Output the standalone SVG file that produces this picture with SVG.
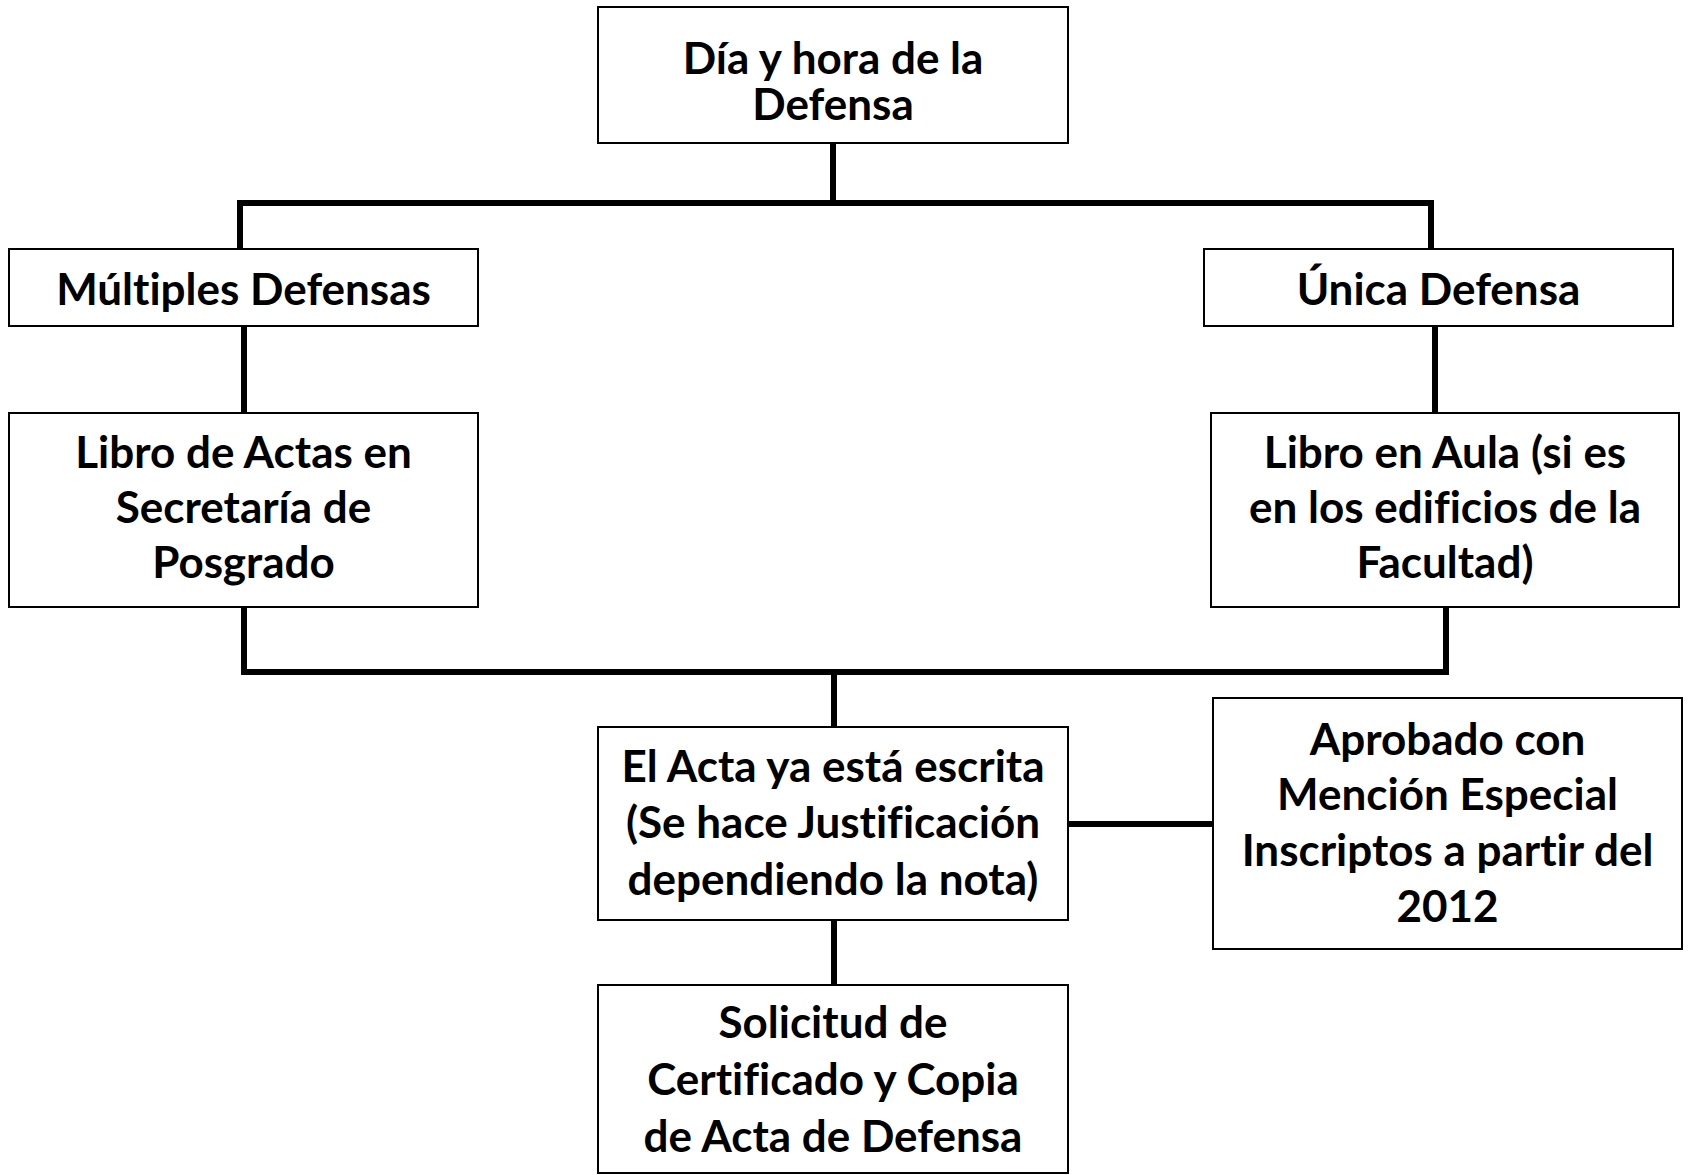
<svg xmlns="http://www.w3.org/2000/svg" width="1688" height="1175" viewBox="0 0 1688 1175">
<style>
.box{fill:#fff;stroke:#000;stroke-width:2}
.t{font-family:Lato,"Open Sans","Liberation Sans",sans-serif;font-weight:bold;font-size:44px;fill:#000;text-anchor:middle;font-variant-ligatures:none}
.c{fill:none;stroke:#000;stroke-width:6}
</style>
<rect width="1688" height="1175" fill="#fff"/>
<g id="connectors">
<path class="c" d="M833 143V203M240 203H1433M240 200V249M1431 200V249"/>
<path class="c" d="M244 326V413M1435 326V413"/>
<path class="c" d="M244 607V672M1446 607V672M241 672H1449M834 672V727"/>
<path class="c" d="M1068 824H1213"/>
<path class="c" d="M834 920V985"/>
</g>
<g id="n1"><rect class="box" x="598" y="7" width="470" height="136"/>
<text class="t" x="833" y="74">Día y hora de la</text><text class="t" x="833" y="120">Defensa</text></g>
<g id="n2"><rect class="box" x="9" y="249" width="469" height="77"/>
<text class="t" x="243.5" y="305">Múltiples Defensas</text></g>
<g id="n3"><rect class="box" x="1204" y="249" width="469" height="77"/>
<text class="t" x="1438.5" y="305">Única Defensa</text></g>
<g id="n4"><rect class="box" x="9" y="413" width="469" height="194"/>
<text class="t" x="243.5" y="468">Libro de Actas en</text><text class="t" x="243.5" y="523">Secretaría de</text><text class="t" x="243.5" y="578">Posgrado</text></g>
<g id="n5"><rect class="box" x="1211" y="413" width="468" height="194"/>
<text class="t" x="1445" y="468">Libro en Aula (si es</text><text class="t" x="1445" y="523">en los edificios de la</text><text class="t" x="1445" y="578">Facultad)</text></g>
<g id="n6"><rect class="box" x="598" y="727" width="470" height="193"/>
<text class="t" x="833" y="782">El Acta ya está escrita</text><text class="t" x="833" y="838">(Se hace Justificación</text><text class="t" x="833" y="895">dependiendo la nota)</text></g>
<g id="n7"><rect class="box" x="1213" y="698" width="469" height="251"/>
<text class="t" x="1447.5" y="755">Aprobado con</text><text class="t" x="1447.5" y="810">Mención Especial</text><text class="t" x="1447.5" y="866">Inscriptos a partir del</text><text class="t" x="1447.5" y="922">2012</text></g>
<g id="n8"><rect class="box" x="598" y="985" width="470" height="188"/>
<text class="t" x="833" y="1038">Solicitud de</text><text class="t" x="833" y="1095">Certificado y Copia</text><text class="t" x="833" y="1152">de Acta de Defensa</text></g>
</svg>
